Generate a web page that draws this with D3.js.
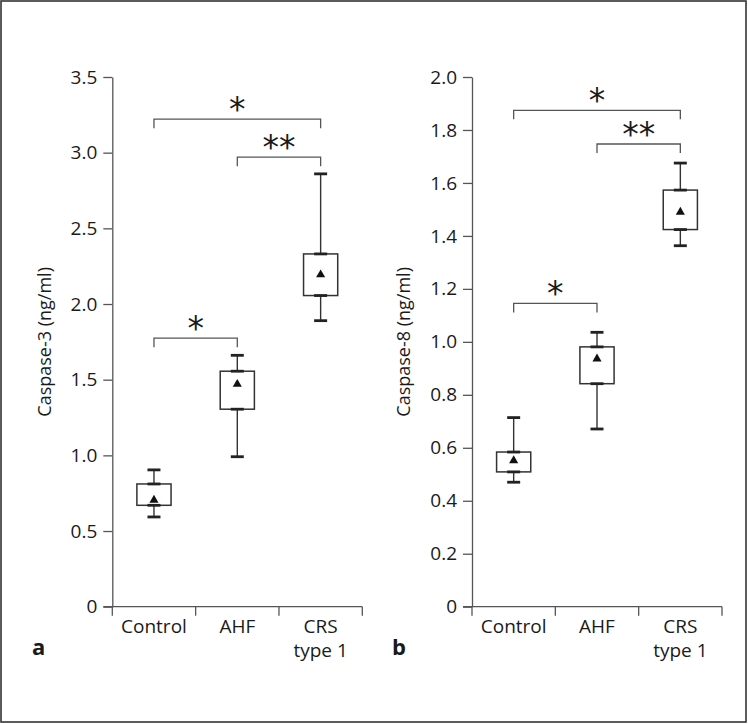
<!DOCTYPE html>
<html>
<head>
<meta charset="utf-8">
<script src="https://cdn.jsdelivr.net/npm/d3@7"></script>
<style>
  html, body { margin: 0; padding: 0; background: #fff; }
  svg { display: block; }
  text { font-family: "Open Sans", "Noto Sans", sans-serif; fill: #1a1a1a; }
</style>
</head>
<body>
<svg id="chart" width="748" height="724"></svg>
<script>
// ---- data ----
const categories = ["Control", "AHF", "CRS type 1"];
const categoryLines = [["Control"], ["AHF"], ["CRS", "type 1"]];

// Caspase-3 (panel a)
const c3Min  = [0.593, 0.991, 1.890];
const c3Q1   = [0.670, 1.305, 2.056];
const c3Q3   = [0.811, 1.556, 2.331];
const c3Max  = [0.904, 1.661, 2.860];
const c3Mean = [0.705, 1.470, 2.194];
const c3Ticks = [0, 0.5, 1.0, 1.5, 2.0, 2.5, 3.0, 3.5];
const c3TickLabels = ["0", "0.5", "1.0", "1.5", "2.0", "2.5", "3.0", "3.5"];
const c3Sig = [
  { from: 0, to: 2, y: 3.221, label: "*" },
  { from: 1, to: 2, y: 2.970, label: "**" },
  { from: 0, to: 1, y: 1.774, label: "*" }
];

// Caspase-8 (panel b)
const c8Min  = [0.470, 0.671, 1.363];
const c8Q1   = [0.509, 0.842, 1.424];
const c8Q3   = [0.584, 0.981, 1.573];
const c8Max  = [0.714, 1.036, 1.675];
const c8Mean = [0.552, 0.936, 1.490];
const c8Ticks = [0, 0.2, 0.4, 0.6, 0.8, 1.0, 1.2, 1.4, 1.6, 1.8, 2.0];
const c8TickLabels = ["0", "0.2", "0.4", "0.6", "0.8", "1.0", "1.2", "1.4", "1.6", "1.8", "2.0"];
const c8Sig = [
  { from: 0, to: 2, y: 1.874, label: "*" },
  { from: 1, to: 2, y: 1.747, label: "**" },
  { from: 0, to: 1, y: 1.145, label: "*" }
];

// ---- drawing ----
const svg = d3.select("#chart");

svg.append("rect")
  .attr("x", 1).attr("y", 1).attr("width", 745).attr("height", 721)
  .attr("fill", "none").attr("stroke", "#333").attr("stroke-width", 1.6);

function panel(opts) {
  const g = svg.append("g");
  const x0 = opts.x0, x1 = opts.x0 + 250;
  const yBottom = 606.7, yTop = 77;

  const x = d3.scaleBand().domain(categories).range([x0, x1]).padding(0);
  const y = d3.scaleLinear().domain(opts.domain).range([yBottom, yTop]);

  // y axis
  const yAxis = d3.axisLeft(y)
    .tickValues(opts.ticks)
    .tickFormat((d, i) => opts.tickLabels[i])
    .tickSize(9).tickSizeOuter(0).tickPadding(6);
  const ya = g.append("g").attr("transform", `translate(${x0},0)`).call(yAxis);
  ya.select(".domain").attr("stroke", "#555").attr("stroke-width", 1.3);
  ya.selectAll(".tick line").attr("stroke", "#555").attr("stroke-width", 1.3);
  ya.selectAll(".tick text")
    .style("font-family", '"Open Sans", sans-serif')
    .style("font-size", "19px").attr("fill", "#1a1a1a");

  // x axis line (extends left to act as zero tick)
  g.append("line")
    .attr("x1", x0 - 9).attr("x2", x1)
    .attr("y1", y(0)).attr("y2", y(0))
    .attr("stroke", "#555").attr("stroke-width", 1.3);

  // separator ticks at band edges
  const edges = categories.map(c => x(c)).concat([x1]);
  g.selectAll(".sep").data(edges).join("line")
    .attr("x1", d => d).attr("x2", d => d)
    .attr("y1", y(0)).attr("y2", y(0) + 9)
    .attr("stroke", "#555").attr("stroke-width", 1.3);

  // category labels
  categories.forEach((c, i) => {
    const t = g.append("text")
      .attr("x", x(c) + x.bandwidth() / 2)
      .attr("y", y(0) + 26)
      .attr("text-anchor", "middle")
      .style("font-size", "19px");
    categoryLines[i].forEach((ln, j) => {
      t.append("tspan").attr("x", x(c) + x.bandwidth() / 2)
        .attr("dy", j === 0 ? 0 : 24).text(ln);
    });
  });

  // y label
  g.append("text")
    .attr("transform", `translate(${opts.labelX},${(y(0) + y(opts.domain[1])) / 2}) rotate(-90)`)
    .attr("text-anchor", "middle")
    .style("font-size", "18px")
    .text(opts.yLabel);

  // panel letter
  g.append("text")
    .attr("x", opts.letterX).attr("y", 655)
    .style("font-size", "22px").style("font-weight", "bold")
    .text(opts.letter);

  // boxes
  const boxW = x.bandwidth() * 0.41;
  const capW = 13;
  categories.forEach((c, i) => {
    const cx = x(c) + x.bandwidth() / 2;
    // whiskers
    g.append("line").attr("x1", cx).attr("x2", cx)
      .attr("y1", y(opts.max[i])).attr("y2", y(opts.q3[i]))
      .attr("stroke", "#333").attr("stroke-width", 1.4);
    g.append("line").attr("x1", cx).attr("x2", cx)
      .attr("y1", y(opts.q1[i])).attr("y2", y(opts.min[i]))
      .attr("stroke", "#333").attr("stroke-width", 1.4);
    // box
    g.append("rect")
      .attr("x", cx - boxW / 2).attr("y", y(opts.q3[i]))
      .attr("width", boxW).attr("height", y(opts.q1[i]) - y(opts.q3[i]))
      .attr("fill", "#fff").attr("stroke", "#333").attr("stroke-width", 1.5);
    // caps
    [opts.min[i], opts.q1[i], opts.q3[i], opts.max[i]].forEach(v => {
      g.append("line").attr("x1", cx - capW / 2).attr("x2", cx + capW / 2)
        .attr("y1", y(v)).attr("y2", y(v))
        .attr("stroke", "#222").attr("stroke-width", 2.8);
    });
    // mean
    g.append("path")
      .attr("d", d3.symbol(d3.symbolTriangle, 36)())
      .attr("transform", `translate(${cx},${y(opts.mean[i])})`)
      .attr("fill", "#111");
  });

  // significance brackets
  opts.sig.forEach(s => {
    const xa = x(categories[s.from]) + x.bandwidth() / 2;
    const xb = x(categories[s.to]) + x.bandwidth() / 2;
    const yy = y(s.y);
    g.append("path")
      .attr("d", `M${xa},${yy + 9}V${yy}H${xb}V${yy + 9}`)
      .attr("fill", "none").attr("stroke", "#555").attr("stroke-width", 1.3);
    g.append("text")
      .attr("x", (xa + xb) / 2).attr("y", yy - 13 + 15)
      .attr("text-anchor", "middle")
      .style("font-family", '"DejaVu Sans", sans-serif')
      .style("font-size", "33px")
      .text(s.label);
  });
}

panel({
  x0: 112.3, domain: [0, 3.5], ticks: c3Ticks, tickLabels: c3TickLabels,
  min: c3Min, q1: c3Q1, q3: c3Q3, max: c3Max, mean: c3Mean, sig: c3Sig,
  yLabel: "Caspase-3 (ng/ml)", labelX: 51, letter: "a", letterX: 32
});
panel({
  x0: 472, domain: [0, 2.0], ticks: c8Ticks, tickLabels: c8TickLabels,
  min: c8Min, q1: c8Q1, q3: c8Q3, max: c8Max, mean: c8Mean, sig: c8Sig,
  yLabel: "Caspase-8 (ng/ml)", labelX: 410, letter: "b", letterX: 392
});
</script>
</body>
</html>
